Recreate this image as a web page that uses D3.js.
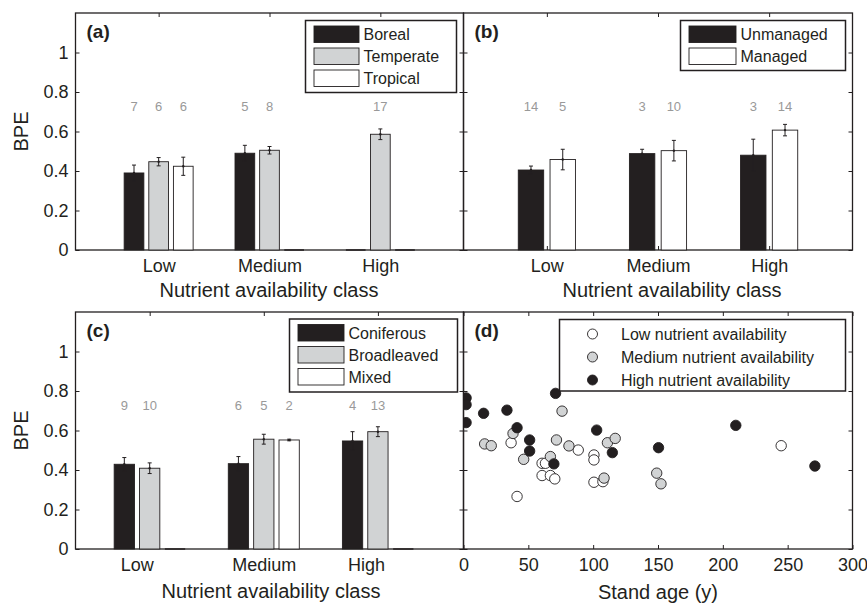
<!DOCTYPE html>
<meta charset="utf-8">
<title>BPE by nutrient availability</title>
<style>
  body { margin: 0; background: #fff; }
  svg { font-family: 'Liberation Sans', Arial, Helvetica, sans-serif; }
  .frame { fill: none; stroke: #231f20; stroke-width: 1.3px; }
  .axis text { font-size: 18px; fill: #231f20; }
  .axis line { stroke: #231f20; stroke-width: 1px; }
  .axis .domain { display: none; }
  .axlabel { font-size: 20px; fill: #231f20; text-anchor: middle; }
  .count { font-size: 13px; fill: #999; text-anchor: middle; }
  .tag { font-size: 19px; font-weight: bold; fill: #231f20; }
  .legend rect.box { fill: #fff; stroke: #231f20; stroke-width: 1.5px; }
  .legend text { font-size: 16px; fill: #231f20; }
  .err { stroke: #231f20; stroke-width: 1px; }
</style>
<svg width="867" height="606"></svg>
<script src="https://cdn.jsdelivr.net/npm/d3@7"></script>
<script>

// categories and ticks
var categories = ["Low", "Medium", "High"];
var yTicks = [0, 0.2, 0.4, 0.6, 0.8, 1];
var ageTicks = [0, 50, 100, 150, 200, 250, 300];

// (a) climate
var climateNames = ["Boreal", "Temperate", "Tropical"];
var borealMean = [0.39, 0.49, null];
var borealErr = [0.04, 0.04, null];
var borealN = [7, 5, null];
var temperateMean = [0.447, 0.505, 0.586];
var temperateErr = [0.021, 0.019, 0.027];
var temperateN = [6, 8, 17];
var tropicalMean = [0.424, null, null];
var tropicalErr = [0.046, null, null];
var tropicalN = [6, null, null];

// (b) management
var manageNames = ["Unmanaged", "Managed"];
var unmanagedMean = [0.405, 0.488, 0.48];
var unmanagedErr = [0.02, 0.022, 0.081];
var unmanagedN = [14, 3, 3];
var managedMean = [0.458, 0.503, 0.607];
var managedErr = [0.052, 0.052, 0.029];
var managedN = [5, 10, 14];

// (c) forest type
var forestNames = ["Coniferous", "Broadleaved", "Mixed"];
var coniferousMean = [0.429, 0.432, 0.547];
var coniferousErr = [0.034, 0.036, 0.047];
var coniferousN = [9, 6, 4];
var broadleavedMean = [0.409, 0.556, 0.594];
var broadleavedErr = [0.027, 0.025, 0.025];
var broadleavedN = [10, 5, 13];
var mixedMean = [null, 0.552, null];
var mixedErr = [null, 0.004, null];
var mixedN = [null, 2, null];

// (d) stand age vs BPE
var nutrientNames = ["Low nutrient availability", "Medium nutrient availability", "High nutrient availability"];
var lowAge = [36.7, 41.3, 60.6, 63.2, 60.6, 67, 70.4, 88.5, 100.6, 100.6, 100.6, 107.5, 245];
var lowBpe = [0.538, 0.266, 0.434, 0.434, 0.372, 0.372, 0.355, 0.501, 0.476, 0.451, 0.338, 0.341, 0.523];
var medAge = [16.3, 21.4, 38.2, 46.4, 67, 71.7, 76, 81.3, 108.4, 111, 117, 149, 152.3];
var medBpe = [0.532, 0.523, 0.585, 0.454, 0.468, 0.552, 0.698, 0.522, 0.359, 0.538, 0.56, 0.384, 0.33];
var highAge = [2, 2, 2, 15.5, 33.5, 41.3, 51, 51, 71, 69.7, 102.7, 114.8, 150.4, 210, 271];
var highBpe = [0.765, 0.731, 0.64, 0.687, 0.703, 0.614, 0.552, 0.496, 0.788, 0.431, 0.602, 0.488, 0.513, 0.626, 0.42];

var BLACK = "#231f20", GREY = "#d1d3d4", WHITE = "#ffffff";

var svg = d3.select("svg");

var panels = {
  a: {x0: 75.5, x1: 463.5, y0: 13, y1: 250, xdom: [0.25, 3.75]},
  b: {x0: 463.5, x1: 852.5, y0: 13, y1: 250, xdom: [0.25, 3.75]},
  c: {x0: 75.5, x1: 463.5, y0: 312, y1: 549, xdom: [0.35, 3.75]},
  d: {x0: 463.5, x1: 852.5, y0: 312, y1: 549, xdom: [0, 300]}
};

function frame(p, xTicks, xFmt, leftLabels, labelShift) {
  var x = d3.scaleLinear().domain(p.xdom).range([p.x0, p.x1]);
  var y = d3.scaleLinear().domain([0, 1.2]).range([p.y1, p.y0]);
  var g = svg.append("g");

  g.append("g").attr("class", "axis").attr("transform", "translate(" + p.x0 + ",0)")
    .call(d3.axisLeft(y).tickValues(yTicks).tickSize(-4).tickPadding(7)
      .tickFormat(leftLabels ? d3.format("~g") : ""));
  g.append("g").attr("class", "axis").attr("transform", "translate(" + p.x1 + ",0)")
    .call(d3.axisRight(y).tickValues(yTicks).tickSize(-4).tickFormat(""));
  g.append("g").attr("class", "axis").attr("transform", "translate(0," + p.y0 + ")")
    .call(d3.axisTop(x).tickValues(xTicks).tickSize(-4).tickFormat(""));
  var bx = g.append("g").attr("class", "axis").attr("transform", "translate(0," + p.y1 + ")")
    .call(d3.axisBottom(x).tickValues(xTicks).tickSize(-4).tickPadding(9).tickFormat(xFmt));
  if (labelShift) {
    bx.selectAll(".tick text").attr("dx", function(d, i) { return labelShift[i]; });
  }

  g.append("rect").attr("class", "frame")
    .attr("x", p.x0).attr("y", p.y0)
    .attr("width", p.x1 - p.x0).attr("height", p.y1 - p.y0);
  return {x: x, y: y, g: g};
}

function bars(s, series) {
  var n = series.length;
  var groupW = Math.min(0.8, n / (n + 1.5));
  var barW = groupW / n * 0.8;
  var wpx = s.x(barW) - s.x(0);
  series.forEach(function(ser, i) {
    var off = (i - (n - 1) / 2) * groupW / n;
    categories.forEach(function(c, j) {
      var cx = s.x(j + 1 + off);
      var v = ser.mean[j];
      if (v == null) {
        s.g.append("line").attr("x1", cx - wpx / 2).attr("x2", cx + wpx / 2)
          .attr("y1", s.y(0)).attr("y2", s.y(0))
          .attr("stroke", BLACK).attr("stroke-width", 1.5);
        return;
      }
      s.g.append("rect")
        .attr("x", cx - wpx / 2).attr("y", s.y(v))
        .attr("width", wpx).attr("height", s.y(0) - s.y(v))
        .attr("fill", ser.fill).attr("stroke", BLACK).attr("stroke-width", 0.9);
      var e = ser.err[j];
      s.g.append("line").attr("class", "err").attr("x1", cx).attr("x2", cx)
        .attr("y1", s.y(v - e)).attr("y2", s.y(v + e));
      [v - e, v + e].forEach(function(t) {
        s.g.append("line").attr("class", "err").attr("x1", cx - 2).attr("x2", cx + 2)
          .attr("y1", s.y(t)).attr("y2", s.y(t));
      });
      s.g.append("circle").attr("cx", cx).attr("cy", s.y(v)).attr("r", 1.2).attr("fill", BLACK);
      s.g.append("text").attr("class", "count")
        .attr("x", cx).attr("y", s.y(0.725)).attr("dy", "0.35em")
        .text(ser.n[j]);
    });
  });
}

function legendBars(box, names, fills) {
  var g = svg.append("g").attr("class", "legend");
  g.append("rect").attr("class", "box")
    .attr("x", box.x).attr("y", box.y).attr("width", box.w).attr("height", box.h);
  names.forEach(function(name, i) {
    var yy = box.y + 5.5 + i * 22;
    g.append("rect").attr("x", box.x + 8.5).attr("y", yy)
      .attr("width", box.sw).attr("height", 16.5)
      .attr("fill", fills[i]).attr("stroke", BLACK).attr("stroke-width", 0.9);
    g.append("text").attr("x", box.x + box.sw + 13).attr("y", yy + 8.5)
      .attr("dy", "0.35em").text(name);
  });
}

function tag(p, t) {
  svg.append("text").attr("class", "tag").attr("x", p.x0 + 11).attr("y", p.y0 + 25).text(t);
}

var catTicks = [1, 2, 3];
var catFmt = function(d) { return categories[d - 1]; };

// (a)
var sa = frame(panels.a, catTicks, catFmt, true);
bars(sa, [
  {mean: borealMean, err: borealErr, n: borealN, fill: BLACK},
  {mean: temperateMean, err: temperateErr, n: temperateN, fill: GREY},
  {mean: tropicalMean, err: tropicalErr, n: tropicalN, fill: WHITE}
]);
legendBars({x: 305.5, y: 20.5, w: 151, h: 72, sw: 45}, climateNames, [BLACK, GREY, WHITE]);
tag(panels.a, "(a)");

// (b)
var sb = frame(panels.b, catTicks, catFmt, false);
bars(sb, [
  {mean: unmanagedMean, err: unmanagedErr, n: unmanagedN, fill: BLACK},
  {mean: managedMean, err: managedErr, n: managedN, fill: WHITE}
]);
legendBars({x: 680.5, y: 20.5, w: 165, h: 50, sw: 47}, manageNames, [BLACK, WHITE]);
tag(panels.b, "(b)");

// (c)
var sc = frame(panels.c, catTicks, catFmt, true, [-13, 0, -12]);
bars(sc, [
  {mean: coniferousMean, err: coniferousErr, n: coniferousN, fill: BLACK},
  {mean: broadleavedMean, err: broadleavedErr, n: broadleavedN, fill: GREY},
  {mean: mixedMean, err: mixedErr, n: mixedN, fill: WHITE}
]);
legendBars({x: 289.5, y: 319, w: 168, h: 73, sw: 46}, forestNames, [BLACK, GREY, WHITE]);
tag(panels.c, "(c)");

// (d)
var sd = frame(panels.d, ageTicks, d3.format("d"), false);
svg.append("clipPath").attr("id", "clipd").append("rect")
  .attr("x", panels.d.x0).attr("y", panels.d.y0)
  .attr("width", panels.d.x1 - panels.d.x0).attr("height", panels.d.y1 - panels.d.y0);
var dots = svg.append("g").attr("clip-path", "url(#clipd)");
[[lowAge, lowBpe, WHITE], [medAge, medBpe, GREY], [highAge, highBpe, BLACK]].forEach(function(s) {
  dots.selectAll(null).data(d3.range(s[0].length)).enter().append("circle")
    .attr("cx", function(i) { return sd.x(s[0][i]); })
    .attr("cy", function(i) { return sd.y(s[1][i]); })
    .attr("r", 5.2)
    .attr("fill", s[2]).attr("stroke", BLACK).attr("stroke-width", 0.9);
});
var lg = svg.append("g").attr("class", "legend");
lg.append("rect").attr("class", "box").attr("x", 559.5).attr("y", 319.5).attr("width", 286).attr("height", 71.5);
nutrientNames.forEach(function(name, i) {
  var yy = 334 + i * 23;
  lg.append("circle").attr("cx", 592.5).attr("cy", yy).attr("r", 5)
    .attr("fill", [WHITE, GREY, BLACK][i]).attr("stroke", BLACK).attr("stroke-width", 0.9);
  lg.append("text").attr("x", 621).attr("y", yy).attr("dy", "0.35em").text(name);
});
tag(panels.d, "(d)");

// axis titles
svg.append("text").attr("class", "axlabel").attr("x", 269).attr("y", 297).text("Nutrient availability class");
svg.append("text").attr("class", "axlabel").attr("x", 672).attr("y", 297).text("Nutrient availability class");
svg.append("text").attr("class", "axlabel").attr("x", 271).attr("y", 598).text("Nutrient availability class");
svg.append("text").attr("class", "axlabel").attr("x", 658).attr("y", 599).text("Stand age (y)");
[131.5, 430.5].forEach(function(cy) {
  svg.append("text").attr("class", "axlabel")
    .attr("transform", "translate(21," + cy + ") rotate(-90)")
    .attr("dy", "0.35em").text("BPE");
});
</script>
